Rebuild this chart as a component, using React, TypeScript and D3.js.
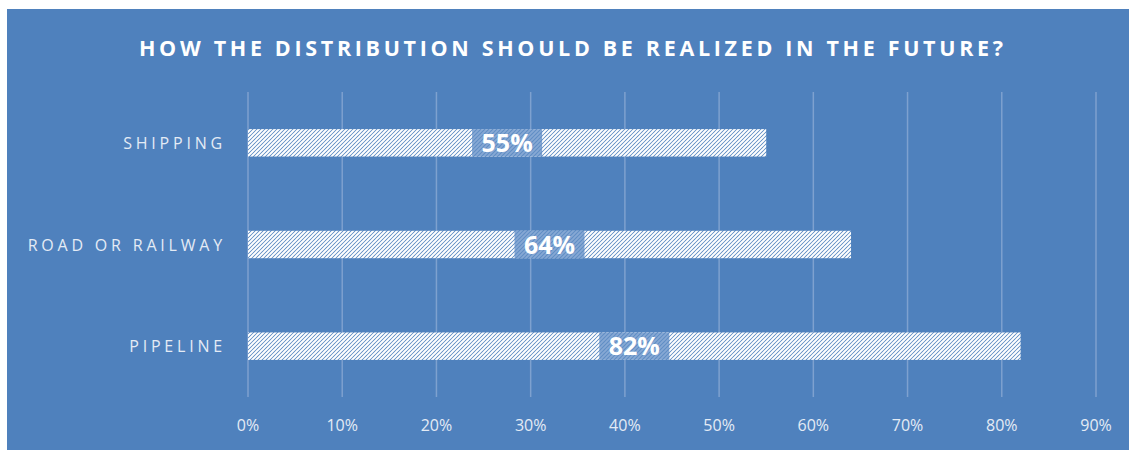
import React from "react";
import * as d3 from "d3";

const categories = ["SHIPPING", "ROAD OR RAILWAY", "PIPELINE"];
const values = [55, 64, 82];
const ticks = [0, 10, 20, 30, 40, 50, 60, 70, 80, 90];
const title = "HOW THE DISTRIBUTION SHOULD BE REALIZED IN THE FUTURE?";

const W = 1129;
const H = 450;
const BG = "#4F81BD";
const GRID = "#7EA1CF";
const TXT = "#E4EBF5";

export default function App() {
  const x = d3.scaleLinear().domain([0, 90]).range([248, 1096]);
  const y = d3.scaleBand().domain(categories).range([92, 397]).paddingInner(0.73).paddingOuter(0.365);
  const bh = y.bandwidth();

  return (
    <svg width={W} height={H} style={{ position: "absolute", left: 0, top: 0 }}>
      <defs>
        <pattern id="hatch" width="4" height="4" patternUnits="userSpaceOnUse">
          <rect width="4" height="4" fill={BG} />
          <path d="M-1,1 l2,-2 M0,4 l4,-4 M3,5 l2,-2" stroke="#ffffff" strokeWidth="2" />
        </pattern>
        <pattern id="hatchFaint" width="4" height="4" patternUnits="userSpaceOnUse">
          <rect width="4" height="4" fill="#5E8CC4" />
          <path d="M-1,1 l2,-2 M0,4 l4,-4 M3,5 l2,-2" stroke="#86A8D4" strokeWidth="1.9" />
        </pattern>
      </defs>
      <rect x={7} y={9} width={W - 7} height={H - 9} fill={BG} />
      <text
        x={571}
        y={56}
        textAnchor="middle"
        fill="#ffffff"
        fontFamily="'Open Sans', sans-serif"
        fontWeight="bold"
        fontSize={21.5}
        textLength={864}
        lengthAdjust="spacing"
      >
        {title}
      </text>
      {ticks.map((t) => (
        <g key={t}>
          <line x1={x(t)} x2={x(t)} y1={92} y2={397} stroke={GRID} strokeWidth={1.5} />
          <text
            x={x(t)}
            y={431}
            textAnchor="middle"
            fill={TXT}
            fontFamily="'Open Sans', sans-serif"
            fontSize={16}
          >
            {t}%
          </text>
        </g>
      ))}
      {categories.map((c, i) => {
        const y0 = y(c)!;
        const v = values[i];
        const cx = (x(0) + x(v)) / 2;
        return (
          <g key={c}>
            <rect x={x(0)} y={y0} width={x(v) - x(0)} height={bh} fill="url(#hatch)" />
            <rect x={cx - 35} y={y0} width={70} height={bh} fill="url(#hatchFaint)" />
            <text
              x={cx}
              y={y0 + bh / 2 + 9}
              textAnchor="middle"
              fill="#ffffff"
              fontFamily="'Open Sans', sans-serif"
              fontWeight="bold"
              fontSize={25}
            >
              {v}%
            </text>
            <text
              x={226}
              y={y0 + bh / 2 + 6}
              textAnchor="end"
              fill={TXT}
              fontFamily="'Open Sans', sans-serif"
              fontSize={16}
              letterSpacing={3.8}
            >
              {c}
            </text>
          </g>
        );
      })}
    </svg>
  );
}
